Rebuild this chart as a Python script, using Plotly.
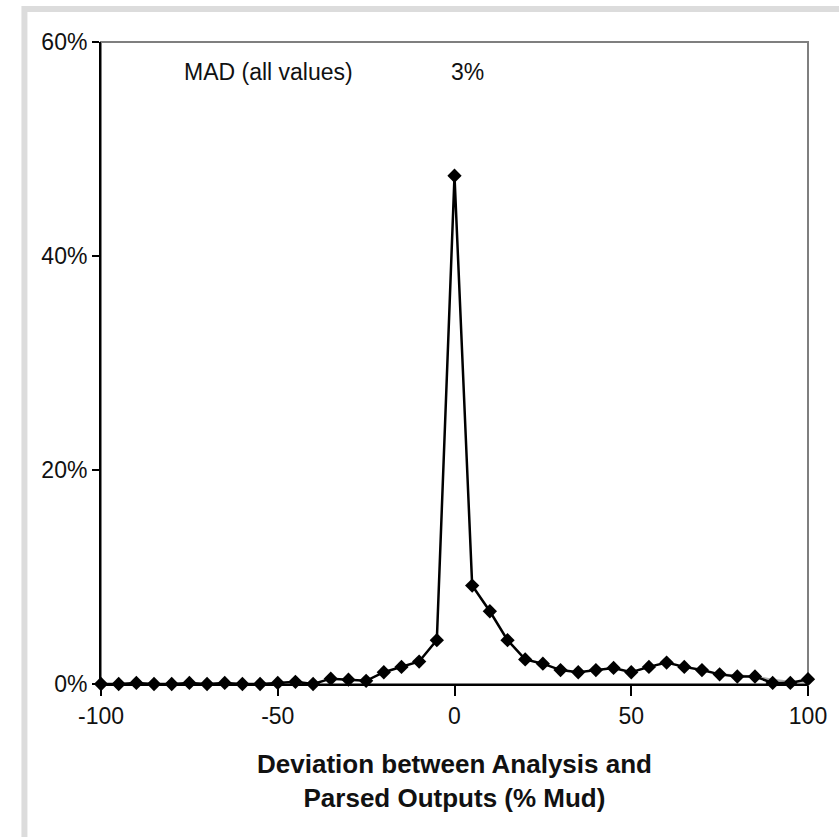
import plotly.graph_objects as go

deviation = [-100, -95, -90, -85, -80, -75, -70, -65, -60, -55, -50, -45, -40, -35, -30, -25, -20, -15, -10, -5,
             0, 5, 10, 15, 20, 25, 30, 35, 40, 45, 50, 55, 60, 65, 70, 75, 80, 85, 90, 95, 100]
frequency = [0.0, 0.0, 0.1, 0.0, 0.0, 0.1, 0.0, 0.1, 0.0, 0.0, 0.1, 0.2, 0.0, 0.5, 0.4, 0.3, 1.1, 1.6, 2.1, 4.1,
             47.5, 9.2, 6.8, 4.1, 2.3, 1.9, 1.3, 1.1, 1.3, 1.5, 1.1, 1.6, 2.0, 1.6, 1.3, 0.9, 0.7, 0.7, 0.1, 0.1, 0.45]
gray_dev = [75, 80, 85, 90, 95, 100]
gray_freq = [0.9, 0.8, 0.7, 0.4, 0.2, 0.2]

x_ticks = [-100, -50, 0, 50, 100]
x_tick_labels = ["-100", "-50", "0", "50", "100"]
y_ticks = [0, 20, 40, 60]
y_tick_labels = ["0%", "20%", "40%", "60%"]
mad_label = "MAD (all values)"
mad_value = "3%"
x_title = "Deviation between Analysis and<br>Parsed Outputs (% Mud)"

FONT = "Liberation Sans, Arial, sans-serif"

fig = go.Figure()
fig.add_trace(go.Scatter(x=gray_dev, y=gray_freq, mode="lines", line=dict(color="#b0b0b0", width=2),
                         cliponaxis=False, showlegend=False, hoverinfo="skip"))
fig.add_trace(go.Scatter(x=deviation, y=frequency, mode="lines+markers",
                         line=dict(color="black", width=2.5),
                         marker=dict(symbol="diamond", size=11, color="black"),
                         cliponaxis=False, showlegend=False))

fig.add_annotation(x=-52.5, y=57.2, text=mad_label, showarrow=False, font=dict(family=FONT, size=23, color="#111"))
fig.add_annotation(x=3.7, y=57.2, text=mad_value, showarrow=False, font=dict(family=FONT, size=23, color="#111"))
fig.add_annotation(xref="x", yref="paper", x=0, y=-0.151, text="<b>" + x_title + "</b>", showarrow=False,
                   yanchor="middle", align="center", font=dict(family=FONT, size=26, color="#111"))

# outer light gray frame (only top and left edges fall inside the canvas)
fig.add_shape(type="rect", xref="paper", yref="paper", x0=-0.1083, y0=-0.40, x1=1.15, y1=1.0514,
              line=dict(color="#dcdcdc", width=6), layer="below")
# plot area border
fig.add_shape(type="rect", xref="paper", yref="paper", x0=0, y0=0, x1=1, y1=1,
              line=dict(color="#7f7f7f", width=2), layer="below")

fig.update_xaxes(range=[-100, 100], tickvals=x_ticks, ticktext=x_tick_labels, ticks="outside", ticklen=10,
                 tickwidth=1.5, tickcolor="black", showline=True, linecolor="black", linewidth=2, showgrid=False,
                 zeroline=False, tickfont=dict(family=FONT, size=23, color="#111"))
fig.update_yaxes(range=[0, 60], tickvals=y_ticks, ticktext=y_tick_labels, ticks="outside", ticklen=7,
                 tickwidth=1.5, tickcolor="black", showline=True, linecolor="black", linewidth=2, showgrid=False,
                 zeroline=False, tickfont=dict(family=FONT, size=23, color="#111"))

fig.update_layout(width=839, height=837, margin=dict(l=101, r=27, t=42, b=153),
                  paper_bgcolor="white", plot_bgcolor="white")

fig.write_html("out.html", config={"displayModeBar": False},
               post_script="document.body.style.margin='0';document.body.style.overflow='hidden';")
